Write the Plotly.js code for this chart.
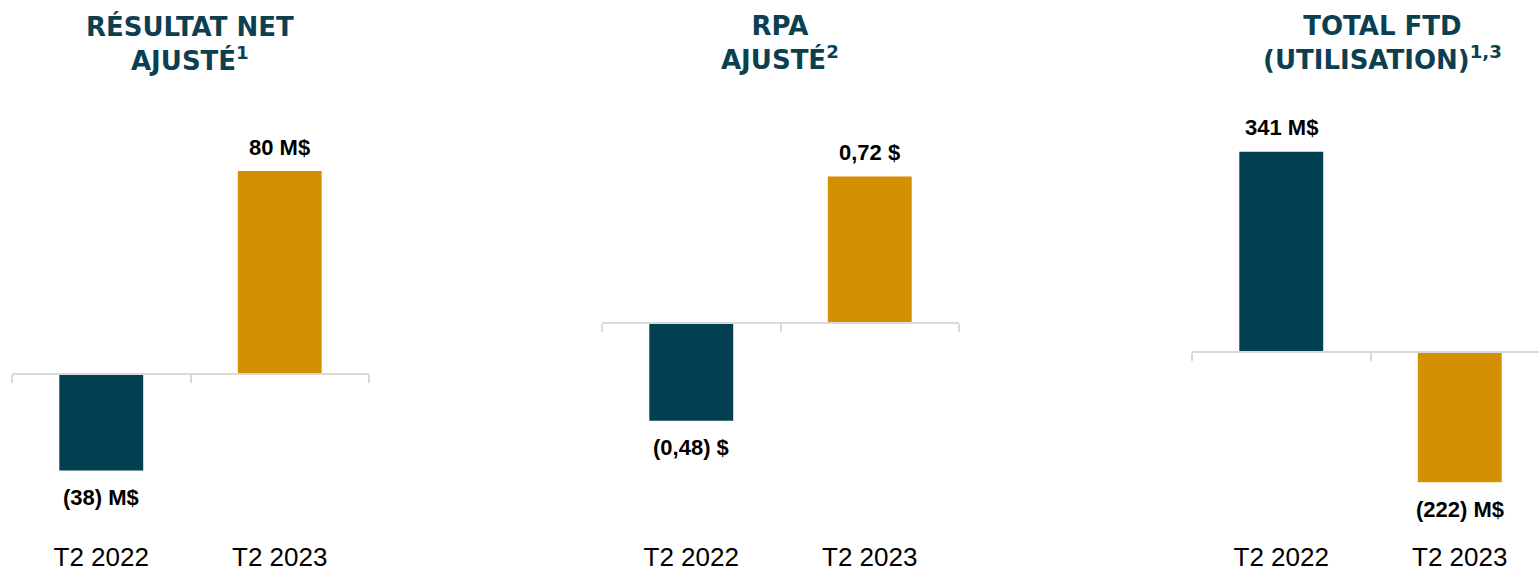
<!DOCTYPE html>
<html>
<head>
<meta charset="utf-8">
<script src="https://cdn.plot.ly/plotly-3.0.1.min.js"></script>
<style>
  html, body { margin: 0; padding: 0; background: #ffffff; }
  #chart { width: 1539px; height: 570px; }
</style>
</head>
<body>
<div id="chart"></div>
<script>
// ---- data ----
const categories = ['T2 2022', 'T2 2023'];

const netIncomeValues = [-38, 80];
const netIncomeLabels = ['(38) M$', '80 M$'];

const epsValues = [-0.48, 0.72];
const epsLabels = ['(0,48) $', '0,72 $'];

const fcfValues = [341, -222];
const fcfLabels = ['341 M$', '(222) M$'];

const panelTitles = [
  'RÉSULTAT NET<br>AJUSTÉ<sup>1</sup>',
  'RPA<br>AJUSTÉ<sup>2</sup>',
  'TOTAL FTD<br>(UTILISATION)<sup>1,3</sup>'
];

const barColors = ['#023f51', '#d39000'];

// ---- layout helpers (pixel geometry) ----
const W = 1539, H = 570;
const plotTopPx = 130, plotBotPx = 520;
const yDom = [(H - plotBotPx) / H, (H - plotTopPx) / H];
const catLabelCenterPx = 558;

const panels = [
  { values: netIncomeValues, labels: netIncomeLabels, title: panelTitles[0],
    xStart: 12, catW: 178.5, xEnd: 369, zeroPx: 374, pxPerUnit: 2.5375, titleX: 190 },
  { values: epsValues, labels: epsLabels, title: panelTitles[1],
    xStart: 602, catW: 178.5, xEnd: 959, zeroPx: 323, pxPerUnit: 203.5, titleX: 780 },
  { values: fcfValues, labels: fcfLabels, title: panelTitles[2],
    xStart: 1192, catW: 178.5, xEnd: 1539, zeroPx: 352, pxPerUnit: 0.587, titleX: 1382 }
];

const data = [];
const layout = {
  width: W, height: H,
  margin: { l: 0, r: 0, t: 0, b: 0, pad: 0 },
  paper_bgcolor: '#ffffff', plot_bgcolor: '#ffffff',
  showlegend: false,
  bargap: 0.53,
  annotations: [],
  font: { family: 'Liberation Sans, Arial, sans-serif', color: '#000000' }
};

panels.forEach((p, i) => {
  const n = i + 1;
  const xa = n === 1 ? 'x' : 'x' + n;
  const ya = n === 1 ? 'y' : 'y' + n;
  const xKey = n === 1 ? 'xaxis' : 'xaxis' + n;
  const yKey = n === 1 ? 'yaxis' : 'yaxis' + n;

  data.push({
    type: 'bar',
    x: categories,
    y: p.values,
    xaxis: xa, yaxis: ya,
    width: 0.47,
    marker: { color: barColors, line: { width: 0 } },
    hoverinfo: 'skip'
  });

  const yMax = (p.zeroPx - plotTopPx) / p.pxPerUnit;
  const yMin = -(plotBotPx - p.zeroPx) / p.pxPerUnit;
  const zeroFrac = yDom[0] + (0 - yMin) / (yMax - yMin) * (yDom[1] - yDom[0]);
  const span = (p.xEnd - p.xStart) / p.catW;

  layout[xKey] = {
    domain: [p.xStart / W, p.xEnd / W],
    range: [-0.5, -0.5 + span],
    type: 'category',
    anchor: 'free',
    position: zeroFrac,
    showline: true, linecolor: '#d9d9d9', linewidth: 2,
    showgrid: false, zeroline: false,
    ticks: 'outside', tickson: 'boundaries', ticklen: 8,
    tickcolor: '#d9d9d9', tickwidth: 2,
    tickfont: { family: 'Liberation Sans, Arial, sans-serif', size: 26, color: '#000000' },
    ticklabelstandoff: Math.round(catLabelCenterPx - p.zeroPx - 8 - 16),
    fixedrange: true
  };
  layout[yKey] = {
    domain: yDom,
    range: [yMin, yMax],
    anchor: xa,
    visible: false,
    showgrid: false, zeroline: false,
    fixedrange: true
  };

  p.values.forEach((v, k) => {
    layout.annotations.push({
      xref: xa, yref: ya,
      x: categories[k], y: v,
      text: p.labels[k],
      showarrow: false,
      yshift: v >= 0 ? 24 : -27,
      font: { family: 'Liberation Sans, Arial, sans-serif', size: 22, color: '#000000', weight: 'bold' }
    });
  });

  layout.annotations.push({
    xref: 'paper', yref: 'paper',
    x: p.titleX / W, y: (H - 43) / H,
    xanchor: 'center', yanchor: 'middle',
    text: '<b>' + p.title + '</b>',
    showarrow: false,
    align: 'center',
    font: { family: 'DejaVu Sans, sans-serif', size: 26, color: '#0c4050' }
  });
});

Plotly.newPlot('chart', data, layout, { displayModeBar: false, staticPlot: true });
</script>
</body>
</html>
